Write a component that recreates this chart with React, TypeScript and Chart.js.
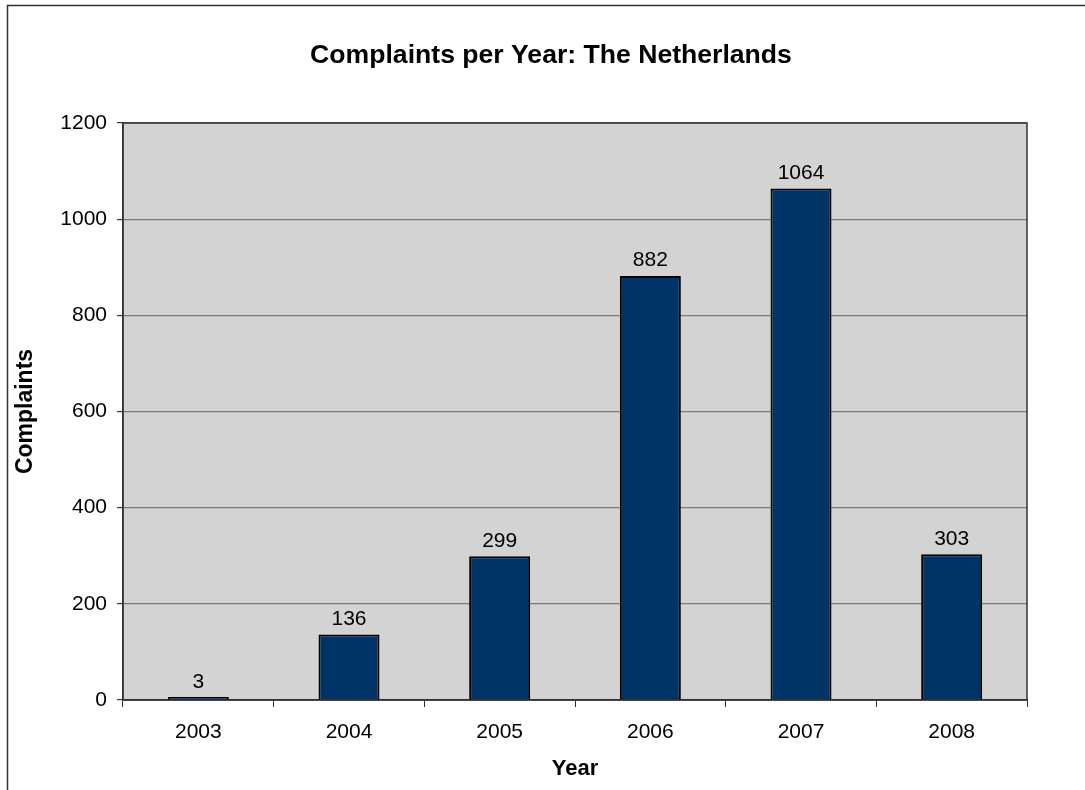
import React, { useEffect, useRef } from "react";
import { Chart, registerables } from "chart.js";

Chart.register(...registerables);

const years: string[] = ["2003", "2004", "2005", "2006", "2007", "2008"];
const complaints: number[] = [3, 136, 299, 882, 1064, 303];
const chartTitle = "Complaints per Year: The Netherlands";
const xTitle = "Year";
const yTitle = "Complaints";

const FONT = "'Liberation Sans', Arial, sans-serif";

const decorPlugin = {
  id: "decor",
  beforeDraw(chart: any) {
    const { ctx, chartArea } = chart;
    ctx.save();
    ctx.fillStyle = "#ffffff";
    ctx.fillRect(0, 0, chart.width, chart.height);
    // outer frame
    ctx.strokeStyle = "#333333";
    ctx.lineWidth = 1.5;
    ctx.strokeRect(7.5, 5.5, chart.width + 50, chart.height + 50);
    // plot background
    ctx.fillStyle = "#D3D3D3";
    ctx.fillRect(chartArea.left, chartArea.top, chartArea.right - chartArea.left, chartArea.bottom - chartArea.top);
    // title
    ctx.fillStyle = "#000000";
    ctx.font = "bold 26.6px " + FONT;
    ctx.textAlign = "center";
    ctx.textBaseline = "alphabetic";
    ctx.fillText(chartTitle, 551, 63);
    ctx.restore();
  },
  beforeDatasetsDraw(chart: any) {
    const { ctx, chartArea } = chart;
    ctx.save();
    ctx.strokeStyle = "#333333";
    ctx.lineWidth = 1.5;
    ctx.strokeRect(chartArea.left, chartArea.top, chartArea.right - chartArea.left, chartArea.bottom - chartArea.top);
    ctx.restore();
  },
  afterDatasetsDraw(chart: any) {
    const { ctx } = chart;
    const meta = chart.getDatasetMeta(0);
    ctx.save();
    ctx.fillStyle = "#000000";
    ctx.font = "21px " + FONT;
    ctx.textAlign = "center";
    ctx.textBaseline = "alphabetic";
    meta.data.forEach((bar: any, i: number) => {
      ctx.fillText(String(complaints[i]), bar.x, bar.y - 9.5);
    });
    ctx.restore();
  },
};

export default function App() {
  const ref = useRef<HTMLCanvasElement | null>(null);
  useEffect(() => {
    if (!ref.current) return;
    const chart = new Chart(ref.current, {
      type: "bar",
      data: {
        labels: years,
        datasets: [
          {
            data: complaints,
            backgroundColor: "#003366",
            borderColor: "#000000",
            borderWidth: 2,
            minBarLength: 3,
            barPercentage: 0.405,
            categoryPercentage: 1,
          },
        ],
      },
      options: {
        responsive: false,
        animation: false,
        layout: { padding: { top: 123, right: 58, left: 0, bottom: 0 } },
        plugins: {
          legend: { display: false },
          title: { display: false },
          tooltip: { enabled: false },
        },
        scales: {
          x: {
            afterFit: (s: any) => {
              s.height = 90;
            },
            grid: {
              display: true,
              drawOnChartArea: false,
              drawTicks: true,
              tickLength: 7,
              tickColor: "#333333",
              offset: true,
            },
            border: { display: true, color: "#333333", width: 1.5 },
            ticks: {
              color: "#000000",
              padding: 13,
              maxRotation: 0,
              font: { family: FONT, size: 21 },
            },
            title: {
              display: true,
              text: xTitle,
              color: "#000000",
              font: { family: FONT, size: 22, weight: "bold" },
              padding: { top: 0, bottom: 8 },
            },
          },
          y: {
            min: 0,
            max: 1200,
            afterFit: (s: any) => {
              s.width = 123;
            },
            grid: {
              color: "#7a7a7a",
              lineWidth: 1.2,
              drawTicks: true,
              tickLength: 6,
              tickColor: "#333333",
            },
            border: { display: true, color: "#333333", width: 1.5 },
            ticks: {
              stepSize: 200,
              color: "#000000",
              padding: 10,
              font: { family: FONT, size: 21 },
              callback: (v: any) => String(v),
            },
            title: {
              display: true,
              text: yTitle,
              color: "#000000",
              font: { family: FONT, size: 23, weight: "bold" },
              padding: { top: 12, bottom: 0 },
            },
          },
        },
      },
      plugins: [decorPlugin],
    });
    return () => chart.destroy();
  }, []);
  return (
    <div style={{ position: "absolute", left: 0, top: 0, width: 1085, height: 790, overflow: "hidden" }}>
      <canvas ref={ref} width={1085} height={790} style={{ display: "block" }} />
    </div>
  );
}
